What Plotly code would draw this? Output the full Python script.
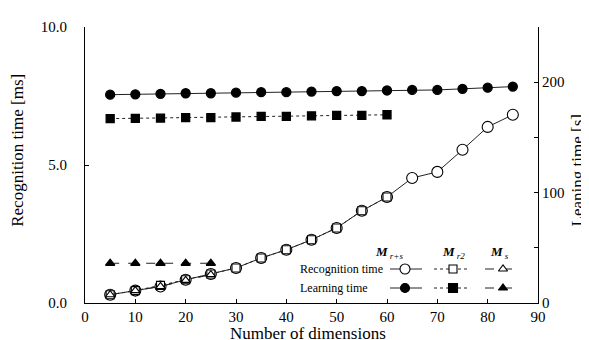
import plotly.graph_objects as go

dims = [5, 10, 15, 20, 25, 30, 35, 40, 45, 50, 55, 60, 65, 70, 75, 80, 85]
rec_rs = [0.30, 0.45, 0.60, 0.84, 1.05, 1.27, 1.63, 1.93, 2.29, 2.72, 3.34, 3.84, 4.53, 4.75, 5.55, 6.38, 6.82]
rec_r2 = [0.30, 0.45, 0.64, 0.84, 1.05, 1.27, 1.63, 1.93, 2.29, 2.72, 3.34, 3.84]
rec_s = [0.30, 0.45, 0.60, 0.82, 1.03]
learn_rs = [188.7, 189, 189.5, 190, 190, 190.5, 191, 191, 191.5, 192, 192, 192.5, 193, 193, 194, 195, 196]
learn_r2 = [167, 167.3, 167.5, 168, 168, 168.5, 169, 169, 169.5, 170, 170, 170.5]
learn_s = [36, 36, 36, 36, 36]

x_ticks = [0, 10, 20, 30, 40, 50, 60, 70, 80, 90]
left_ticks = [0, 5, 10]
right_ticks = [0, 100, 200]

FONT = "Liberation Serif"
LC = "#222222"

fig = go.Figure()

def add(x, y, yaxis, dash, symbol, filled, size, xaxis="x"):
    fig.add_trace(go.Scatter(
        x=x, y=y, xaxis=xaxis, yaxis=yaxis, mode="lines+markers",
        line=dict(color=LC, width=1, dash=dash),
        marker=dict(symbol=symbol, size=size,
                    color="black" if filled else "white",
                    line=dict(color="black", width=1.3 if filled else 1.1)),
        showlegend=False, hoverinfo="skip"))

# Learning time (right axis)
add(dims, learn_rs, "y2", "solid", "circle", True, 9)
add(dims[:len(learn_r2)], learn_r2, "y2", "dot", "square", True, 8)
add(dims[:len(learn_s)], learn_s, "y2", "dash", "triangle-up", True, 8)
# Recognition time (left axis)
add(dims, rec_rs, "y", "solid", "circle", False, 11)
add(dims[:len(rec_r2)], rec_r2, "y", "dot", "square", False, 8)
add(dims[:len(rec_s)], rec_s, "y", "dash", "triangle-up", False, 8)

# Legend table drawn on a hidden overlay axis (pixel-like frame)
leg_rows = {"rec": 261, "learn": 280}
leg_cols = {"rs": (382, 414, 397), "r2": (426, 462, 445), "s": (477, 510, 495)}
styles = {"rs": ("solid", "circle", 9, 10), "r2": ("dot", "square", 9, 8), "s": ("dash", "triangle-up", 8, 8)}
for key, (x0, x1, xm) in leg_cols.items():
    dash, sym, sf, so = styles[key]
    for row, yy in leg_rows.items():
        filled = row == "learn"
        fig.add_trace(go.Scatter(x=[x0, x1], y=[yy, yy], xaxis="x3", yaxis="y3", mode="lines",
                                 line=dict(color=LC, width=1, dash=dash),
                                 showlegend=False, hoverinfo="skip"))
        fig.add_trace(go.Scatter(x=[xm], y=[yy], xaxis="x3", yaxis="y3", mode="markers",
                                 marker=dict(symbol=sym, size=sf if filled else so,
                                             color="black" if filled else "white",
                                             line=dict(color="black", width=1.1)),
                                 showlegend=False, hoverinfo="skip"))

def axis_common():
    return dict(showline=True, linecolor="black", linewidth=1, ticks="inside",
                tickcolor="black", ticklen=4, showgrid=False, zeroline=False,
                tickfont=dict(family=FONT, size=15, color="black"))

fig.update_layout(
    width=589, height=340,
    margin=dict(l=77, r=59, t=19, b=45),
    paper_bgcolor="white", plot_bgcolor="white",
    font=dict(family=FONT, color="black", size=14),
    xaxis=dict(range=[0, 90], tickvals=x_ticks, ticklabelstandoff=0, **axis_common()),
    yaxis=dict(range=[0, 10], tickvals=left_ticks, tickformat=".1f", ticklabelstandoff=14, **axis_common()),
    yaxis2=dict(range=[0, 250], tickvals=right_ticks, overlaying="y", side="right", ticklabelstandoff=0,
                minor=dict(dtick=50, ticks="inside", ticklen=4, tickcolor="black"), **axis_common()),
    xaxis3=dict(range=[77, 530], overlaying="x", visible=False, fixedrange=True),
    yaxis3=dict(range=[295, 19], overlaying="y", visible=False, fixedrange=True),
)

ann = [
    dict(text="Recognition time [ms]", x=-0.148, y=0.555, textangle=-90, size=17),
    dict(text="Leaning time [s]", x=1.088, y=0.48, textangle=-90, size=17),
    dict(text="Number of dimensions", x=0.492, y=-0.112, textangle=0, size=17),
]
for a in ann:
    fig.add_annotation(text=a["text"], xref="paper", yref="paper", x=a["x"], y=a["y"],
                       textangle=a["textangle"], showarrow=False, xanchor="center", yanchor="middle",
                       font=dict(family=FONT, size=a["size"], color="black"))

px = lambda v: (v - 77) / 453
py = lambda v: (295 - v) / 276
headers = [("<b><i>M</i></b><sub><i> r+s</i></sub>", 381), ("<b><i>M</i></b><sub><i> r2</i></sub>", 445),
           ("<b><i>M</i></b><sub><i> s</i></sub>", 491)]
for t, xx in headers:
    fig.add_annotation(text=t, xref="paper", yref="paper", x=px(xx), y=py(244), showarrow=False,
                       xanchor="center", yanchor="middle", font=dict(family=FONT, size=13, color="black"))
for t, yy in [("Recognition time", 261), ("Learning time", 280)]:
    fig.add_annotation(text=t, xref="paper", yref="paper", x=px(290), y=py(yy), showarrow=False,
                       xanchor="left", yanchor="middle", font=dict(family=FONT, size=12, color="black"))

fig.write_html("out.html")
